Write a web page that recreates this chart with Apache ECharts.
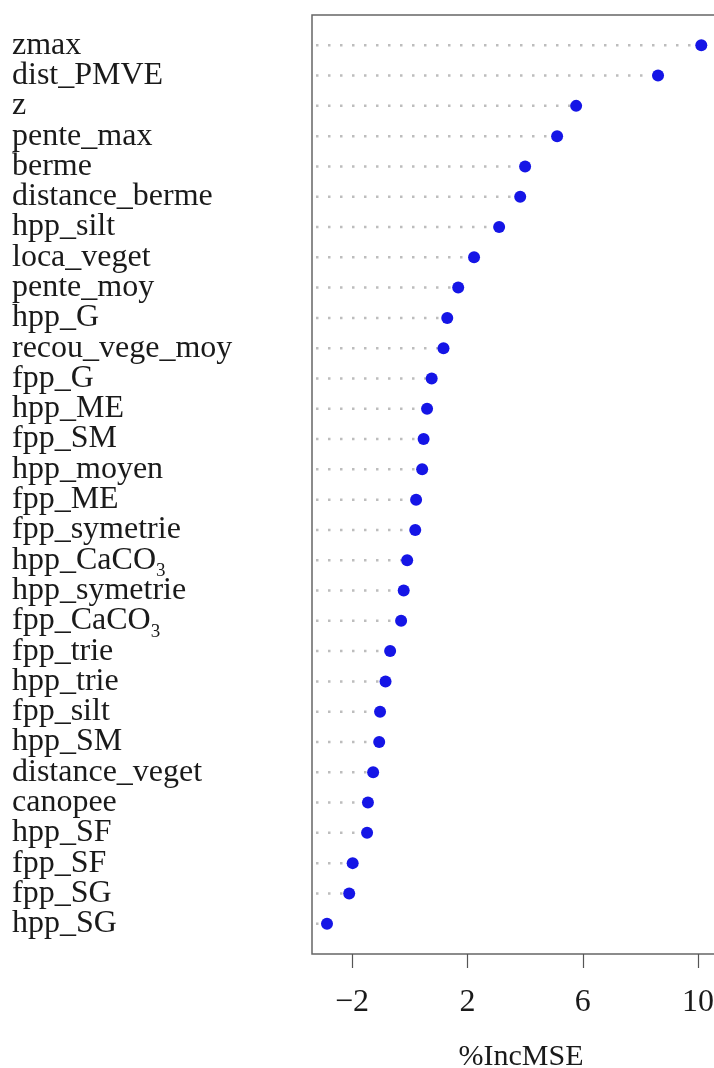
<!DOCTYPE html>
<html>
<head>
<meta charset="utf-8">
<script src="https://cdn.jsdelivr.net/npm/echarts@6/dist/echarts.min.js"></script>
<style>
  html, body { margin: 0; padding: 0; background: #fff; }
  #main { width: 714px; height: 1068px; }
</style>
</head>
<body>
<div id="main"></div>
<script>
// variables, top to bottom as in the plot
var varNames = ['zmax', 'dist_PMVE', 'z', 'pente_max', 'berme', 'distance_berme',
    'hpp_silt', 'loca_veget', 'pente_moy', 'hpp_G', 'recou_vege_moy', 'fpp_G',
    'hpp_ME', 'fpp_SM', 'hpp_moyen', 'fpp_ME', 'fpp_symetrie', 'hpp_CaCO{sub|3}',
    'hpp_symetrie', 'fpp_CaCO{sub|3}', 'fpp_trie', 'hpp_trie', 'fpp_silt', 'hpp_SM',
    'distance_veget', 'canopee', 'hpp_SF', 'fpp_SF', 'fpp_SG', 'hpp_SG'];
// %IncMSE
var incMSE = [10.11, 8.61, 5.77, 5.11, 4.0, 3.83,
    3.10, 2.23, 1.68, 1.30, 1.17, 0.76,
    0.60, 0.48, 0.43, 0.22, 0.19, -0.09,
    -0.21, -0.30, -0.68, -0.84, -1.03, -1.06,
    -1.27, -1.45, -1.48, -1.98, -2.10, -2.87];
var xTicks = [-2, 2, 6, 10];

var xMin = -3.39, xMax = 10.62;
var n = varNames.length;

var rows = [];
for (var i = 0; i < n; i++) {
    rows.push([incMSE[i], n - i]);
}

var myChart = echarts.init(document.getElementById('main'));

var option = {
    animation: false,
    backgroundColor: '#fff',
    textStyle: { fontFamily: 'Liberation Serif', color: '#1a1a1a' },
    grid: {
        left: 312, top: 15, width: 404, height: 939,
        outerBoundsMode: 'none',
        show: true, borderColor: '#666', borderWidth: 1.5
    },
    xAxis: {
        type: 'value', min: xMin, max: xMax,
        name: '%IncMSE', nameLocation: 'middle', nameGap: 88,
        nameTextStyle: { fontSize: 30, fontFamily: 'Liberation Serif', color: '#1a1a1a', padding: [0, 0, 0, 14] },
        splitLine: { show: false },
        axisLine: { show: false },
        axisTick: { show: true, customValues: xTicks, length: 14, lineStyle: { color: '#555', width: 1.2 } },
        axisLabel: {
            customValues: xTicks, fontSize: 32, margin: 33, color: '#1a1a1a',
            fontFamily: 'Liberation Serif',
            showMinLabel: true, showMaxLabel: true,
            formatter: function (v) { return v < 0 ? '\u2212' + (-v) : '' + v; }
        }
    },
    yAxis: {
        type: 'value', min: 0, max: n + 1,
        splitLine: { show: false },
        axisLine: { show: false },
        axisTick: { show: false },
        axisLabel: { show: false }
    },
    series: [
        {
            // dotted guide from the left edge to each point
            type: 'custom',
            silent: true,
            data: rows,
            renderItem: function (params, api) {
                var p0 = api.coord([xMin, api.value(1)]);
                var p1 = api.coord([api.value(0), api.value(1)]);
                return {
                    type: 'line',
                    shape: { x1: p0[0] + 4, y1: p0[1], x2: p1[0], y2: p1[1] },
                    style: { stroke: '#bdbdbd', lineWidth: 2.5, lineDash: [2.5, 9.5] }
                };
            }
        },
        {
            // variable names, left aligned like dotchart labels
            type: 'custom',
            silent: true,
            clip: false,
            data: rows,
            renderItem: function (params, api) {
                var p = api.coord([xMin, api.value(1)]);
                return {
                    type: 'text',
                    x: 12,
                    y: p[1],
                    style: {
                        text: varNames[params.dataIndex],
                        fontSize: 32,
                        fontFamily: 'Liberation Serif',
                        fill: '#1a1a1a',
                        align: 'left',
                        verticalAlign: 'middle',
                        rich: {
                            sub: { fontSize: 19, padding: [22, 0, 0, 0], fontFamily: 'Liberation Serif', fill: '#1a1a1a' }
                        }
                    }
                };
            }
        },
        {
            type: 'scatter',
            data: rows,
            symbol: 'circle',
            symbolSize: 12,
            itemStyle: { color: '#1515e6', opacity: 1 }
        }
    ]
};

myChart.setOption(option);
</script>
</body>
</html>
